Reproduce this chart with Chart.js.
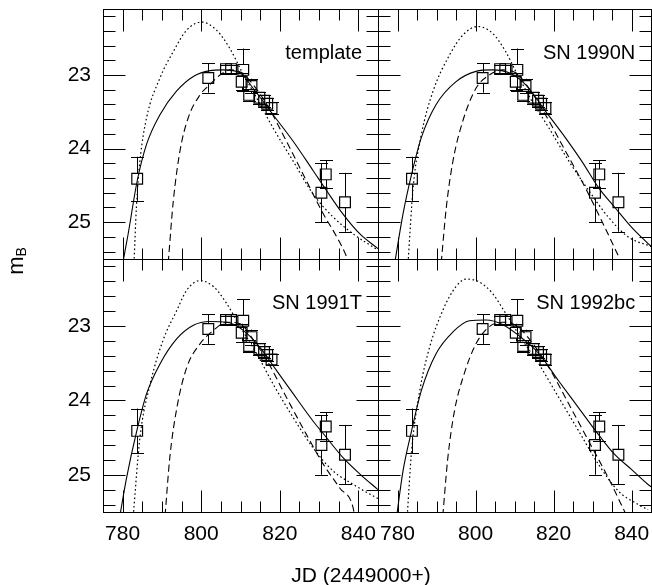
<!DOCTYPE html>
<html>
<head>
<meta charset="utf-8">
<script src="https://cdn.jsdelivr.net/npm/chart.js@4"></script>
<style>
  html, body { margin: 0; padding: 0; background: #fff; overflow: hidden; }
  #wrap { position: relative; width: 652px; height: 585px; overflow: hidden;
          font-family: 'Liberation Sans', Arial, Helvetica, sans-serif; color: #000; }
  canvas { position: absolute; left: 0; top: 0; }
  #xlabel { position: absolute; left: 261px; width: 200px; top: 564px;
            font-size: 21px; line-height: 21px; text-align: center; white-space: nowrap; }
  #ylabel { position: absolute; left: -4px; top: 249px; width: 40px; height: 24px;
            font-size: 22px; line-height: 24px; text-align: center;
            transform: rotate(-90deg); white-space: nowrap; }
  #ylabel sub { font-size: 14px; vertical-align: -3px; }
</style>
</head>
<body>
<div id="wrap">
  <canvas id="c0" width="660" height="585"></canvas>
  <canvas id="c1" width="660" height="585"></canvas>
  <canvas id="c2" width="660" height="585"></canvas>
  <canvas id="c3" width="660" height="585"></canvas>
  <div id="ylabel">m<sub>B</sub></div>
  <div id="xlabel">JD (2449000+)</div>
</div>
<script>
// observed B magnitudes (same points in every panel)
const obsJD  = [783.7, 801.8, 806.3, 807.6, 810.7, 810.3, 812.8, 812.2, 814.8, 816.0, 816.8, 817.9, 830.6, 831.7, 836.6];
const obsMag = [24.41, 23.04, 22.92, 22.92, 22.93, 23.09, 23.15, 23.27, 23.31, 23.35, 23.39, 23.45, 24.60, 24.35, 24.73];
const obsErr = [0.30, 0.20, 0.05, 0.05, 0.29, 0.12, 0.10, 0.08, 0.08, 0.08, 0.08, 0.08, 0.40, 0.19, 0.40];

const panelTitles = ["template", "SN 1990N", "SN 1991T", "SN 1992bc"];

// fitted curves, [JD, mag]
const tplSolid = [[780.2,25.51],[781.4,25.16],[783.7,24.44],[786.1,23.94],[789.5,23.54],[793.7,23.22],[798.0,23.02],[802.2,22.94],[805.6,22.93],[809.9,22.97],[813.2,23.18],[818.3,23.54],[823.4,23.90],[828.5,24.30],[831.9,24.57],[836.1,24.89],[840.4,25.16],[845,25.36]];
const tplDot   = [[782.9,25.55],[783.5,24.8],[784.4,24.17],[786.1,23.58],[789.5,23.04],[792.9,22.68],[796.3,22.39],[800.1,22.28],[803.9,22.39],[807.3,22.64],[810.3,22.95],[814.1,23.31],[818.3,23.72],[823.4,24.17],[828.5,24.62],[833.6,24.93],[838.7,25.16],[845,25.38]];
const tplDash  = [[791.6,25.55],[792.9,24.71],[794.6,24.03],[796.7,23.58],[799.7,23.27],[801.8,23.15],[804.8,23.00],[807.3,22.93],[810.3,22.97],[813.2,23.13],[816.7,23.40],[821.7,23.90],[826.8,24.44],[831.1,24.89],[834.5,25.20],[837.0,25.47],[837.5,25.55]];

const n90Solid = [[779.3,25.55],[781.4,24.89],[783.6,24.35],[786.1,23.85],[789.9,23.40],[795.0,23.09],[800.1,22.95],[804.3,22.93],[808.6,22.97],[812.8,23.13],[817.9,23.49],[823.0,23.85],[827.2,24.17],[831.5,24.53],[835.7,24.80],[840.0,25.07],[844.2,25.29],[845,25.33]];
const n90Dot   = [[782.7,25.55],[784.0,24.53],[786.1,23.81],[789.1,23.22],[793.3,22.73],[796.7,22.46],[800.5,22.34],[804.3,22.43],[807.7,22.68],[810.3,22.95],[814.5,23.36],[818.8,23.72],[823.9,24.17],[829.0,24.57],[834.0,24.93],[839.1,25.20],[845,25.33]];
const n90Dash  = [[791.2,25.55],[792.5,24.80],[794.2,24.17],[796.7,23.63],[800.1,23.18],[803.5,23.00],[806.9,22.93],[810.3,22.97],[813.7,23.18],[817.9,23.54],[823.0,24.03],[828.1,24.53],[832.3,24.98],[837.4,25.55]];

const t91Solid = [[779.3,25.55],[781.0,25.04],[783.6,24.41],[786.1,23.91],[789.5,23.51],[793.8,23.17],[798.0,22.99],[802.2,22.94],[806.5,22.95],[810.7,23.06],[815.0,23.29],[819.2,23.60],[823.4,23.91],[828.5,24.28],[831.9,24.50],[836.1,24.77],[840.4,24.99],[845,25.20]];
const t91Dot   = [[782.7,25.55],[784.4,24.50],[787.0,23.78],[790.3,23.19],[793.8,22.79],[796.3,22.52],[799.7,22.39],[803.1,22.47],[806.5,22.70],[809.9,23.01],[814.1,23.37],[818.3,23.78],[823.4,24.23],[828.5,24.64],[833.6,24.95],[838.7,25.13],[845,25.32]];
const t91Dash  = [[790.8,25.55],[792.0,24.77],[793.8,24.10],[796.3,23.56],[799.7,23.24],[803.1,23.06],[806.5,22.95],[809.9,22.97],[813.3,23.19],[816.7,23.46],[821.7,23.96],[826.8,24.46],[831.1,24.86],[835.3,25.18],[838.7,25.45],[839.0,25.55]];

const bc92Solid = [[779.8,25.55],[781.4,24.95],[783.6,24.41],[786.1,23.87],[789.9,23.37],[794.2,23.08],[798.4,22.93],[802.7,22.92],[806.9,22.98],[811.1,23.13],[816.2,23.37],[821.3,23.74],[826.4,24.10],[831.5,24.46],[835.7,24.73],[840.0,24.93],[844.2,25.13],[845,25.16]];
const bc92Dot   = [[782.5,25.55],[783.6,24.68],[785.7,23.87],[788.2,23.29],[791.6,22.79],[795.0,22.47],[797.6,22.37],[801.0,22.41],[804.3,22.56],[807.7,22.83],[812.0,23.19],[816.2,23.51],[821.3,23.96],[826.4,24.41],[831.5,24.86],[836.6,25.22],[841.7,25.40],[844.2,25.47]];
const bc92Dash  = [[791.6,25.55],[792.9,24.77],[794.6,24.14],[797.1,23.64],[800.1,23.24],[803.5,23.01],[806.9,22.95],[810.3,22.99],[813.7,23.17],[818.8,23.56],[823.9,24.05],[829.0,24.55],[834.0,25.04],[838.7,25.55]];

// axes
const xRange = [775, 845];
const yRange = [22.1, 25.5];
const xMajorTicks = [780, 800, 820, 840];
const xMinorTicks = [785, 790, 795, 805, 810, 815, 825, 830, 835];
const yMajorTicks = [23, 24, 25];
const yMinorTicks = [22.2, 22.4, 22.6, 22.8, 23.2, 23.4, 23.6, 23.8, 24.2, 24.4, 24.6, 24.8, 25.2, 25.4];

Chart.defaults.font.family = "'Liberation Sans', Arial, Helvetica, sans-serif";
Chart.defaults.color = '#000';

const panelCurves = [
  [tplSolid, tplDot, tplDash],
  [n90Solid, n90Dot, n90Dash],
  [t91Solid, t91Dot, t91Dash],
  [bc92Solid, bc92Dot, bc92Dash]
];

// chart area of each panel, in page pixels
const panelBox = [
  { left: 103, top: 7,   right: 378, bottom: 259 },
  { left: 378, top: 7,   right: 653, bottom: 259 },
  { left: 103, top: 259, right: 378, bottom: 512 },
  { left: 378, top: 259, right: 653, bottom: 512 }
];
const AXIS_W = 50, AXIS_H = 40; // fixed room for tick labels

const frameTicks = {
  id: 'frameTicks',
  afterDatasetsDraw(chart, args, opts) {
    const { ctx, chartArea: a } = chart;
    const xs = chart.scales.x, ys = chart.scales.y;
    ctx.save();
    ctx.strokeStyle = '#000';
    ctx.lineWidth = 1;
    ctx.setLineDash([]);

    // error bars
    const half = 5.5, cap = 6.5;
    ctx.beginPath();
    obsJD.forEach((jd, i) => {
      const px = Math.round(xs.getPixelForValue(jd)) + 0.5;
      const pc = ys.getPixelForValue(obsMag[i]);
      const pt = ys.getPixelForValue(obsMag[i] - obsErr[i]);
      const pb = ys.getPixelForValue(obsMag[i] + obsErr[i]);
      if (pc - pt > half) {
        ctx.moveTo(px, pt); ctx.lineTo(px, pc - half);
        ctx.moveTo(px, pc + half); ctx.lineTo(px, pb);
      }
      ctx.moveTo(px - cap, Math.round(pt) + 0.5); ctx.lineTo(px + cap, Math.round(pt) + 0.5);
      ctx.moveTo(px - cap, Math.round(pb) + 0.5); ctx.lineTo(px + cap, Math.round(pb) + 0.5);
    });
    ctx.stroke();

    // frame
    const L = Math.round(a.left) + 0.5, R = Math.round(a.right) + 0.5;
    const T = Math.round(a.top) + 0.5, B = Math.round(a.bottom) + 0.5;
    ctx.strokeRect(L, T, R - L, B - T);

    // inward ticks on all four sides
    ctx.beginPath();
    const xt = (v, len) => {
      const p = Math.round(xs.getPixelForValue(v)) + 0.5;
      ctx.moveTo(p, T); ctx.lineTo(p, T + len);
      ctx.moveTo(p, B); ctx.lineTo(p, B - len);
    };
    const yt = (v, len) => {
      const p = Math.round(ys.getPixelForValue(v)) + 0.5;
      ctx.moveTo(L, p); ctx.lineTo(L + len, p);
      ctx.moveTo(R, p); ctx.lineTo(R - len, p);
    };
    xMajorTicks.forEach(v => xt(v, 22));
    xMinorTicks.forEach(v => xt(v, 11));
    yMajorTicks.forEach(v => yt(v, 22));
    yMinorTicks.forEach(v => yt(v, 12));
    ctx.stroke();

    // panel name
    ctx.fillStyle = '#000';
    ctx.font = "20px 'Liberation Sans', Arial, sans-serif";
    ctx.textAlign = 'right';
    ctx.textBaseline = 'alphabetic';
    ctx.fillText(opts.title, a.right - 16, a.top + 50);
    ctx.restore();
  }
};

const curveStyles = [
  { borderDash: [], width: 1.1 },
  { borderDash: [1.6, 2.6], width: 1.2 },
  { borderDash: [7, 4], width: 1.1 }
];

panelBox.forEach((box, k) => {
  const showX = k >= 2;
  const showY = k % 2 === 0;
  const datasets = panelCurves[k].map((pts, j) => ({
    data: pts.map(p => ({ x: p[0], y: p[1] })),
    showLine: true,
    borderColor: '#000',
    borderWidth: curveStyles[j].width,
    borderDash: curveStyles[j].borderDash,
    pointRadius: 0,
    cubicInterpolationMode: 'monotone'
  }));
  datasets.push({
    data: obsJD.map((jd, i) => ({ x: jd, y: obsMag[i] })),
    showLine: false,
    pointStyle: 'rect',
    pointRadius: 7.6,
    borderWidth: 1.2,
    borderColor: '#000',
    backgroundColor: 'rgba(0,0,0,0)'
  });

  new Chart(document.getElementById('c' + k), {
    type: 'scatter',
    data: { datasets },
    plugins: [frameTicks],
    options: {
      responsive: false,
      animation: false,
      devicePixelRatio: 1,
      events: [],
      layout: {
        padding: {
          left: box.left - (showY ? AXIS_W : 0),
          top: box.top,
          right: 660 - box.right,
          bottom: 585 - box.bottom - (showX ? AXIS_H : 0)
        }
      },
      plugins: {
        legend: { display: false },
        tooltip: { enabled: false },
        frameTicks: { title: panelTitles[k] }
      },
      scales: {
        x: {
          type: 'linear',
          min: xRange[0], max: xRange[1],
          display: showX,
          grid: { display: false, drawTicks: false },
          border: { display: false },
          ticks: { font: { size: 21 }, padding: 10, maxRotation: 0, autoSkip: false, color: '#000' },
          afterBuildTicks: s => { s.ticks = xMajorTicks.map(v => ({ value: v })); },
          afterFit: s => { s.height = showX ? AXIS_H : 0; s.paddingLeft = 0; s.paddingRight = 0; }
        },
        y: {
          type: 'linear',
          reverse: true,
          min: yRange[0], max: yRange[1],
          display: showY,
          grid: { display: false, drawTicks: false },
          border: { display: false },
          ticks: { font: { size: 21 }, padding: 12, color: '#000' },
          afterBuildTicks: s => { s.ticks = yMajorTicks.map(v => ({ value: v })); },
          afterFit: s => { s.width = showY ? AXIS_W : 0; s.paddingTop = 0; s.paddingBottom = 0; }
        }
      }
    }
  });
});
</script>
</body>
</html>
